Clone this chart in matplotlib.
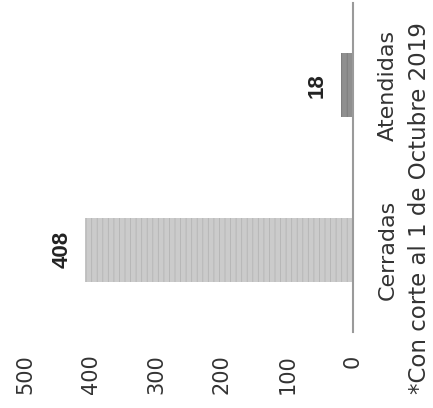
import matplotlib.pyplot as plt

categories = ["Cerradas", "Atendidas"]
values = [408, 18]
ticks = [0, 100, 200, 300, 400, 500]
note = "*Con corte al 1 de Octubre 2019"

plt.rcParams["hatch.linewidth"] = 0.6

fig = plt.figure(figsize=(4.33, 4.08), dpi=100)
# chart is drawn turned on its side: values grow to the left
ax = fig.add_axes([0.058, 0.186, 0.757, 0.807])

pos = list(range(len(categories)))
bars = ax.barh(pos, values, height=0.39, color=["#cbcbcb", "#8f8f8f"],
               edgecolor=["#b4b4b4", "#7a7a7a"], linewidth=0, hatch="|||")

ax.set_xlim(500, 0)
ax.set_ylim(-0.5, 1.5)

ax.set_xticks(ticks)
ax.set_xticklabels([str(t) for t in ticks], rotation=90, va="top",
                   fontsize=15, color="#333333")
ax.tick_params(axis="x", length=0, pad=16)

ax.yaxis.tick_right()
ax.set_yticks(pos)
ax.set_yticklabels(categories, rotation=90, va="center", ha="left",
                   fontsize=16, color="#333333")
ax.tick_params(axis="y", length=0, pad=18)

for s in ["top", "left", "bottom"]:
    ax.spines[s].set_visible(False)
ax.spines["right"].set_color("#9a9a9a")
ax.spines["right"].set_linewidth(1.5)

for b, v in zip(bars, values):
    ax.annotate(str(v), (v, b.get_y() + b.get_height() / 2),
                xytext=(-17, 0), textcoords="offset points",
                rotation=90, ha="center", va="center",
                fontsize=16, fontweight="bold", family="Liberation Sans",
                color="#222222")

fig.text(0.968, 0.49, note, rotation=90, ha="center", va="center",
         fontsize=16.5, color="#333333")

fig.savefig("out.png", dpi=100)
